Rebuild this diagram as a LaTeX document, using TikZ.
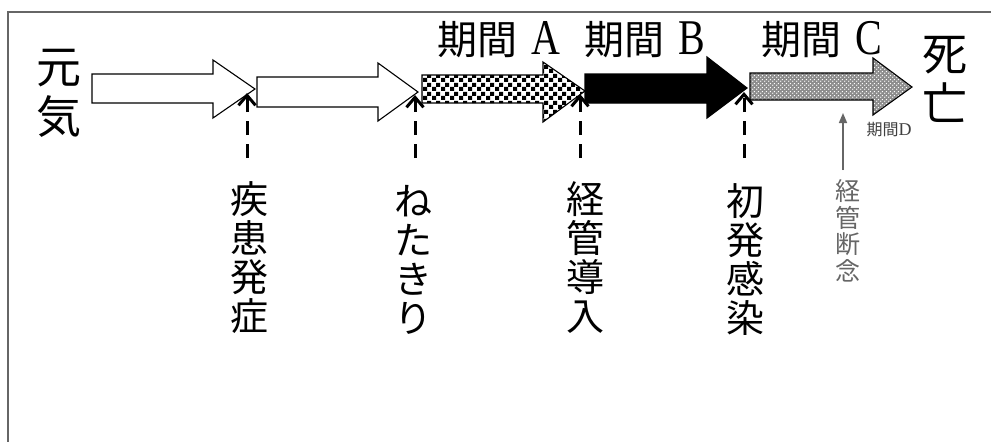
\documentclass[tikz,border=0pt]{standalone}
\usepackage{fontspec}
\usepackage{graphicx}
\setmainfont{Noto Sans CJK JP}
\newfontfamily\serifLat{Liberation Serif}
\usetikzlibrary{arrows.meta,patterns.meta}
\tikzdeclarepattern{
  name=mychecker,
  type=uncolored,
  bottom left={(0pt,0pt)},
  top right={(9pt,9pt)},
  tile size={(9pt,9pt)},
  code={
    \fill (0pt,0pt) rectangle (4.5pt,4.5pt);
    \fill (4.5pt,4.5pt) rectangle (9pt,9pt);
  }
}
\tikzdeclarepattern{
  name=mydots,
  type=uncolored,
  bottom left={(0pt,0pt)},
  top right={(4pt,4pt)},
  tile size={(4pt,4pt)},
  code={
    \fill (1pt,1pt) circle (0.85pt);
    \fill (3pt,3pt) circle (0.85pt);
  }
}
\newcommand{\LatA}[1]{{\serifLat\fontsize{50}{50}\selectfont\scalebox{0.8}[1]{#1}}}
\tikzset{
  frameline/.style={line width=1.6pt, draw=black!60},
  bigarr/.style={draw=black, line width=1.1pt, line join=miter},
  vlab/.style={align=center, inner sep=0pt, font=\fontsize{38}{39}\selectfont},
  vsmall/.style={align=center, inner sep=0pt, text=black!60, font=\fontsize{25}{26.5}\selectfont},
  title/.style={inner sep=0pt, font=\fontsize{40}{40}\selectfont},
  endlab/.style={align=center, inner sep=0pt, font=\fontsize{45}{50}\selectfont},
  dasharr/.style={line width=3pt, dash pattern=on 14pt off 9pt, -{Straight Barb[length=10pt,width=17pt]}},
  grayarr/.style={line width=1.6pt, draw=black!60, -{Triangle[length=10pt,width=8pt]}, fill=black!60}
}
\begin{document}
\begin{tikzpicture}[x=1pt,y=-1pt]
\useasboundingbox (0,0) rectangle (991,442);
\fill[white] (0,0) rectangle (991,442);
% frame
\draw[frameline] (991,12) -- (8,12) -- (8,442);
% arrows
\draw[bigarr, fill=white] (92,74) -- (213,74) -- (213,60) -- (255,89) -- (213,118) -- (213,103) -- (92,103) -- cycle;
\draw[bigarr, fill=white] (257,77) -- (378,77) -- (378,63) -- (418,92) -- (378,121) -- (378,107) -- (257,107) -- cycle;
\fill[white] (422,75) -- (543,75) -- (543,62) -- (585,91) -- (543,122) -- (543,103) -- (422,103) -- cycle;
\draw[bigarr, pattern={mychecker}, pattern color=black] (422,75) -- (543,75) -- (543,62) -- (585,91) -- (543,122) -- (543,103) -- (422,103) -- cycle;
\draw[bigarr, fill=black] (585,74) -- (707,74) -- (707,57) -- (747,88) -- (707,118) -- (707,103) -- (585,103) -- cycle;
\fill[black!45] (750,73) -- (873,73) -- (873,58) -- (912,87) -- (873,115) -- (873,100) -- (750,100) -- cycle;
\draw[bigarr, pattern={mydots}, pattern color=white] (750,73) -- (873,73) -- (873,58) -- (912,87) -- (873,115) -- (873,100) -- (750,100) -- cycle;
% end labels
\node[endlab] (genki) at (59,93) {元\\気};
\node[endlab] (shibo) at (945,79) {死\\亡};
% titles
\node[title] (pA) at (499,40) {期間\hspace{14pt}\LatA{A}};
\node[title] (pB) at (645,40) {期間\hspace{14pt}\LatA{B}};
\node[title] (pC) at (822,40) {期間\hspace{14pt}\LatA{C}};
% vertical labels
\node[vlab] (l1) at (249,258) {疾\\患\\発\\症};
\node[vlab] (l2) at (413,260) {ね\\た\\き\\り};
\node[vlab] (l3) at (585,258) {経\\管\\導\\入};
\node[vlab] (l4) at (745,260) {初\\発\\感\\染};
\node[vsmall] (l5) at (848,231) {経\\管\\断\\念};
\node[inner sep=0pt, text=black!75, font=\fontsize{16}{16}\selectfont] (pD) at (889,130) {期間{\serifLat\fontsize{18}{18}\selectfont D}};
% connectors
\coordinate (s1) at (247,158); \coordinate (t1) at (247,93);
\coordinate (s2) at (415,158); \coordinate (t2) at (415,95);
\coordinate (s3) at (580,158); \coordinate (t3) at (580,94);
\coordinate (s4) at (744,158); \coordinate (t4) at (744,92);
\coordinate (s5) at (843,170); \coordinate (t5) at (843,113);
\draw[dasharr] (s1) -- (t1);
\draw[dasharr] (s2) -- (t2);
\draw[dasharr] (s3) -- (t3);
\draw[dasharr] (s4) -- (t4);
\draw[grayarr] (s5) -- (t5);
\end{tikzpicture}
\end{document}
